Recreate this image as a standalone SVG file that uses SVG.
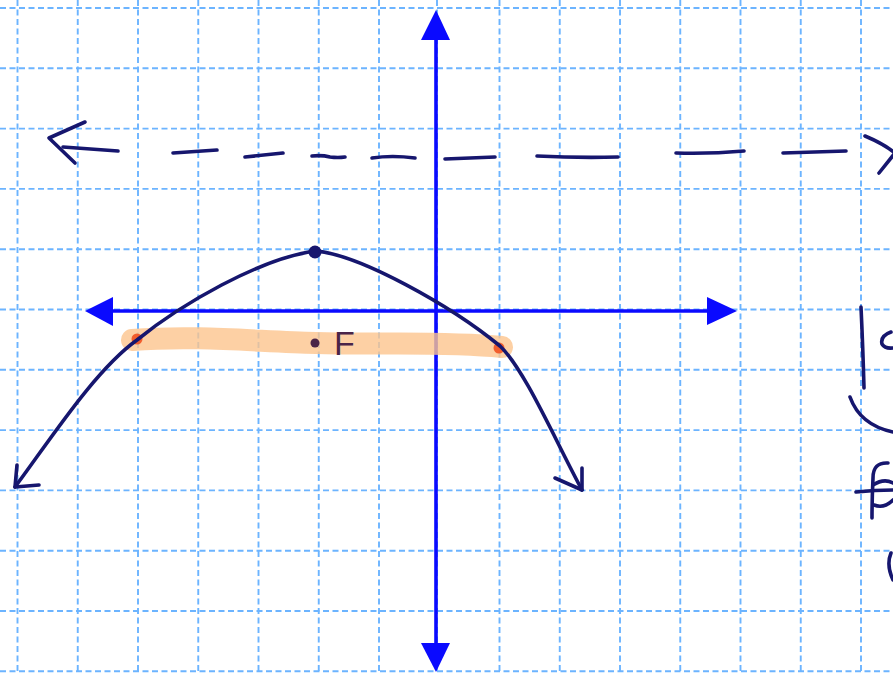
<svg xmlns="http://www.w3.org/2000/svg" width="893" height="673" viewBox="0 0 893 673">
<style>
.grid line{stroke:#6cb4ff;stroke-width:1.9;stroke-dasharray:6 3.5}
.axis{stroke:#0a0aff;stroke-width:3.6;fill:none}
.axhead{fill:#0a0aff}
.pen{stroke:#16166e;stroke-width:3.6;fill:none;stroke-linecap:round;stroke-linejoin:round}
</style>
<rect width="893" height="673" fill="#ffffff"/>
<g id="grid" class="grid">
<line x1="17.5" y1="0" x2="17.5" y2="673"/>
<line x1="77.75" y1="0" x2="77.75" y2="673"/>
<line x1="138" y1="0" x2="138" y2="673"/>
<line x1="198.25" y1="0" x2="198.25" y2="673"/>
<line x1="258.5" y1="0" x2="258.5" y2="673"/>
<line x1="318.75" y1="0" x2="318.75" y2="673"/>
<line x1="379" y1="0" x2="379" y2="673"/>
<line x1="437" y1="0" x2="437" y2="673"/>
<line x1="499.5" y1="0" x2="499.5" y2="673"/>
<line x1="559.75" y1="0" x2="559.75" y2="673"/>
<line x1="620" y1="0" x2="620" y2="673"/>
<line x1="680.25" y1="0" x2="680.25" y2="673"/>
<line x1="740.5" y1="0" x2="740.5" y2="673"/>
<line x1="800.75" y1="0" x2="800.75" y2="673"/>
<line x1="861" y1="0" x2="861" y2="673"/>
<line x1="0" y1="8" x2="893" y2="8"/>
<line x1="0" y1="68.3" x2="893" y2="68.3"/>
<line x1="0" y1="128.6" x2="893" y2="128.6"/>
<line x1="0" y1="188.9" x2="893" y2="188.9"/>
<line x1="0" y1="249.2" x2="893" y2="249.2"/>
<line x1="0" y1="309.5" x2="893" y2="309.5"/>
<line x1="0" y1="369.8" x2="893" y2="369.8"/>
<line x1="0" y1="430.1" x2="893" y2="430.1"/>
<line x1="0" y1="490.4" x2="893" y2="490.4"/>
<line x1="0" y1="550.7" x2="893" y2="550.7"/>
<line x1="0" y1="611" x2="893" y2="611"/>
<line x1="0" y1="671.3" x2="893" y2="671.3"/>
</g>
<g id="axes">
<line class="axis" x1="436" y1="38" x2="436" y2="645"/>
<polygon class="axhead" points="436,10 421,40 450,40"/>
<polygon class="axhead" points="436,672 421,643 450,643"/>
<line class="axis" x1="110" y1="311" x2="710" y2="311"/>
<polygon class="axhead" points="85,311 113,297 113,326"/>
<polygon class="axhead" points="737,311 707,297 707,325"/>
</g>
<g id="directrix" class="pen">
<path d="M85,122 L49,138 L75,163"/>
<path d="M63,147 L118,151"/>
<path d="M173,153 L217,150"/>
<path d="M245,157 L283,153"/>
<path d="M312,156 Q322,155 330,157 Q338,158 345,157"/>
<path d="M372,158 Q392,155 415,158"/>
<path d="M445,159 L495,157"/>
<path d="M537,156 Q578,158 618,157"/>
<path d="M676,153 Q710,154 744,151"/>
<path d="M783,153 L846,151"/>
<path d="M865,136 Q884,144 895,153 L879,173"/>
</g>
<g id="latus-rectum">
<path d="M132,340 C200,335 260,342 316,343 C380,345 440,341 502,347" stroke="#fcc48d" stroke-width="22" stroke-linecap="round" fill="none" opacity="0.8"/>
<circle cx="137" cy="339" r="5.5" fill="#f04a1a" opacity="0.85"/>
<circle cx="499" cy="348" r="5.5" fill="#f04a1a" opacity="0.85"/>
</g>
<g id="parabola">
<path class="pen" d="M15,487 C50,440 95,370 137,340 C180,305 260,258 316,251 C360,255 450,305 500,346 C525,370 555,440 582,490"/>
<path class="pen" d="M17,465 L15,487 L39,485"/>
<path class="pen" d="M555,478 L582,490 L582,468"/>
</g>
<g id="vertex">
<circle cx="315" cy="252" r="6.5" fill="#16166e"/>
</g>
<g id="focus">
<circle cx="315" cy="343" r="4.5" fill="#4a2448"/>
<text x="334" y="355" font-family="Liberation Sans, Arial, sans-serif" font-size="34" fill="#4a2448">F</text>
</g>
<g id="margin-notes" class="pen">
<path d="M861,307 Q863,350 864,388"/>
<path d="M891,332 Q880,336 882,344 Q885,349 893,348"/>
<path d="M850,397 Q860,425 893,432"/>
<path d="M856,492 Q875,490 893,490"/>
<path d="M888,463 Q873,462 873,478 Q872,500 872,518"/>
<path d="M873,485 Q884,478 893,483 M874,505 Q884,509 893,500"/>
<path d="M891,553 Q886,565 893,580"/>
</g>
</svg>
